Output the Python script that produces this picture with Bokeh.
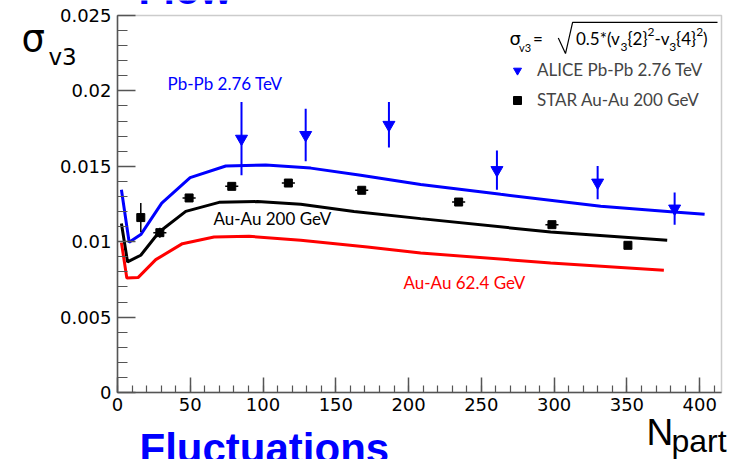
from bokeh.plotting import figure
from bokeh.models import FixedTicker, Label, Legend, LegendItem, Range1d, BoxAnnotation
from bokeh.embed import file_html
from bokeh.resources import INLINE

# ---- data -------------------------------------------------------------
# ALICE Pb-Pb 2.76 TeV: sigma_v3 vs Npart
alice_npart = [85.2, 129.3, 186.5, 260.7, 329.9, 382.8]
alice_sigma = [0.01683, 0.01708, 0.01775, 0.01475, 0.01392, 0.01220]
alice_err = [0.00243, 0.00174, 0.00151, 0.00130, 0.00110, 0.00107]

# STAR Au-Au 200 GeV
star_npart = [16.0, 29.1, 49.2, 78.5, 117.4, 167.8, 234.4, 298.5, 350.7]
star_sigma = [0.01160, 0.01060, 0.01290, 0.01367, 0.01389, 0.01341, 0.01263, 0.01113, 0.00976]
star_err = [0.00096, 0.00033, 0.00015, 0.00012, 0.00012, 0.00012, 0.00012, 0.00012, 0.00010]
star_npart_err = [2.0, 4.5, 4.5, 4.5, 4.5, 4.5, 4.5, 4.5, 0.0]

# model curves
pbpb_npart = [2.7, 8.0, 16.0, 30.4, 49.9, 74.4, 101.9, 132.8, 167.1, 208.3, 263.3, 332.0, 382.3, 403.4]
pbpb_sigma = [0.01345, 0.00996, 0.01047, 0.01256, 0.01425, 0.01502, 0.01508, 0.01488, 0.01440,
              0.01379, 0.01314, 0.01235, 0.01197, 0.01182]
au200_npart = [2.7, 6.9, 16.0, 28.6, 46.9, 69.8, 96.2, 125.9, 162.5, 208.3, 297.6, 377.7]
au200_sigma = [0.01120, 0.00866, 0.00910, 0.01064, 0.01201, 0.01261, 0.01266, 0.01248, 0.01201,
               0.01153, 0.01064, 0.01009]
au62_npart = [2.7, 6.4, 14.1, 26.3, 44.6, 66.3, 90.4, 125.9, 171.7, 208.3, 297.6, 375.4]
au62_sigma = [0.00994, 0.00759, 0.00762, 0.00881, 0.00987, 0.01031, 0.01036, 0.01009, 0.00965,
              0.00925, 0.00859, 0.00810]

# axis ticks
x_ticks = [0, 50, 100, 150, 200, 250, 300, 350, 400]
x_minor = [v for v in range(0, 411, 10)]
y_ticks = [0.0, 0.005, 0.01, 0.015, 0.02, 0.025]
y_tick_labels = ["0", "0.005", "0.01", "0.015", "0.02", "0.025"]
y_minor = [i / 1000 for i in range(26)]

# ---- geometry ---------------------------------------------------------
# The plotting frame spans the whole canvas; the axes are pinned at x=0 / y=0
# so that the surrounding titles can live inside the frame without clipping.
W, H = 739, 459
BL, BR, BT, BB = 117, 721, 15, 392          # axes box edges (canvas px)
X_MAX, Y_MAX = 415, 0.025
SX = X_MAX / (BR - BL)
SY = Y_MAX / (BB - BT)
x_range = Range1d(-BL * SX, X_MAX + (W - BR) * SX)
y_range = Range1d(-(H - BB) * SY, Y_MAX + BT * SY)

p = figure(width=W, height=H, x_range=x_range, y_range=y_range,
           output_backend="svg", toolbar_location=None, title=None,
           min_border=0, min_border_left=0, min_border_right=0,
           min_border_top=0, min_border_bottom=0)
p.xgrid.visible = False
p.ygrid.visible = False
p.outline_line_color = None
p.background_fill_color = "white"
p.border_fill_color = "white"

AX = "#555555"
xa = p.xaxis[0]
xa.fixed_location = 0
xa.bounds = (0, X_MAX)
xa.ticker = FixedTicker(ticks=x_ticks, minor_ticks=x_minor)
xa.major_tick_in, xa.major_tick_out = 15, 0
xa.minor_tick_in, xa.minor_tick_out = 7, 0
xa.major_label_standoff = 5
ya = p.yaxis[0]
ya.fixed_location = 0
ya.bounds = (0, Y_MAX)
ya.ticker = FixedTicker(ticks=y_ticks, minor_ticks=y_minor)
ya.major_tick_in, ya.major_tick_out = 18, 0
ya.minor_tick_in, ya.minor_tick_out = 10, 0
ya.major_label_standoff = 6
ya.major_label_overrides = dict(zip(y_ticks, y_tick_labels))
for ax in (xa, ya):
    ax.axis_line_color = AX
    ax.axis_line_width = 1.5
    ax.major_tick_line_color = AX
    ax.major_tick_line_width = 1.5
    ax.minor_tick_line_color = AX
    ax.minor_tick_line_width = 1.2
    ax.major_label_text_font = "DejaVu Sans"
    ax.major_label_text_font_size = "18px"
    ax.major_label_text_color = "black"

# box around the axes area
p.add_layout(BoxAnnotation(left=0, right=X_MAX, bottom=0, top=Y_MAX, fill_alpha=0,
                           line_color=AX, line_width=1.5, level="underlay"))

BLUE, RED = "#0000ff", "#ff0000"

# model curves
p.line(pbpb_npart, pbpb_sigma, line_color=BLUE, line_width=3)
p.line(au200_npart, au200_sigma, line_color="black", line_width=3)
p.line(au62_npart, au62_sigma, line_color=RED, line_width=3)

# error bars
p.segment(x0=alice_npart, x1=alice_npart,
          y0=[s - e for s, e in zip(alice_sigma, alice_err)],
          y1=[s + e for s, e in zip(alice_sigma, alice_err)],
          line_color=BLUE, line_width=2)
p.segment(x0=star_npart, x1=star_npart,
          y0=[s - e for s, e in zip(star_sigma, star_err)],
          y1=[s + e for s, e in zip(star_sigma, star_err)],
          line_color="black", line_width=1.5)
p.segment(x0=[n - e for n, e in zip(star_npart, star_npart_err)],
          x1=[n + e for n, e in zip(star_npart, star_npart_err)],
          y0=star_sigma, y1=star_sigma, line_color="black", line_width=1.5)

r_alice = p.scatter(alice_npart, alice_sigma, marker="inverted_triangle", size=12,
                    fill_color=BLUE, line_color=BLUE)
r_star = p.scatter(star_npart, star_sigma, marker="square", size=8,
                   fill_color="black", line_color="black")

legend = Legend(items=[LegendItem(label="ALICE Pb-Pb 2.76 TeV", renderers=[r_alice]),
                       LegendItem(label="STAR Au-Au 200 GeV", renderers=[r_star])],
                location=(507, H - 110), border_line_color=None, background_fill_alpha=0,
                glyph_width=20, glyph_height=20, label_height=20, label_standoff=10,
                spacing=9, padding=0, margin=0,
                label_text_font="Lato", label_text_font_size="17px")
p.add_layout(legend)


def note(txt, left, base, size, font="Lato", color="black", style="normal"):
    """Place a text with its left edge at `left` and its baseline near `base` (canvas px)."""
    mid = base - 0.35 * size
    p.add_layout(Label(x=left, y=H - mid, x_units="screen", y_units="screen",
                       text=txt, text_font=font, text_font_size=f"{size}px",
                       text_color=color, text_font_style=style,
                       text_align="left", text_baseline="middle"))


# curve captions
note("Pb-Pb 2.76 TeV", 167, 89, 17, color=BLUE)
note("Au-Au 200 GeV", 213, 224, 17)
note("Au-Au 62.4 GeV", 403, 288, 17, color=RED)

# axis titles
note("σ", 21, 51, 37, font="DejaVu Sans")
note("v3", 48, 65, 23, font="DejaVu Sans")
note("N", 646, 445, 37, font="Liberation Sans")
note("part", 671, 452, 32, font="Liberation Sans")

# slide headings
note("Flow", 138, 4, 41, font="Liberation Sans", color=BLUE, style="bold")
note("Fluctuations", 139, 463, 42, font="Liberation Sans", color=BLUE, style="bold")

# formula: sigma_v3 = sqrt(0.5*(v3{2}^2 - v3{4}^2))
note("σ", 509, 44, 18, font="DejaVu Sans")
note("v3", 518.5, 50.5, 11)
note("=", 532.5, 44, 17)


def to_data(px, py):
    return (px - BL) * SX, (BB - py) * SY


rad = [to_data(557.8, 37.5), to_data(565, 53.1), to_data(572.1, 21.9), to_data(717, 21.9)]
p.line([a for a, _ in rad], [b for _, b in rad], line_color="black", line_width=1.2)

MAIN, SUB = 17, 12
ADV = {"0": .58, "2": .58, "3": .58, "4": .58, "5": .58, ".": .24, "*": .42, "(": .30, ")": .30,
       "v": .50, "{": .30, "}": .30, "-": .36}
pieces = [("0.5*(v", 0), ("3", -1), ("{2}", 0), ("2", 1), ("-v", 0), ("3", -1),
          ("{4}", 0), ("2", 1), (")", 0)]
cx = 575.5
for txt, lvl in pieces:
    size = MAIN if lvl == 0 else SUB
    base = 44 + (6.5 if lvl < 0 else (-8 if lvl > 0 else 0))
    note(txt, cx, base, size)
    cx += sum(ADV[c] for c in txt) * size

open("out.html", "w").write(file_html(p, INLINE))
